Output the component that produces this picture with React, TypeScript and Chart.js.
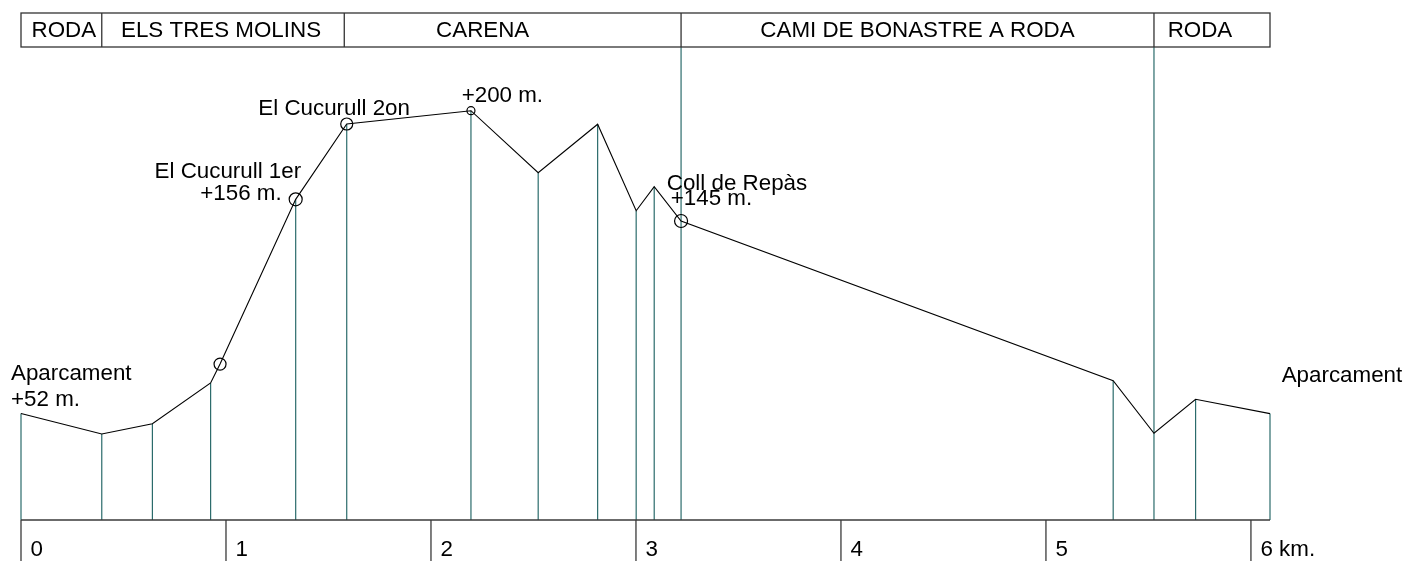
import React, { useEffect, useRef } from "react";
import { Chart, registerables } from "chart.js";

Chart.register(...registerables);

// Distance along the route (km) and elevation (m)
const distanceKm = [0, 0.394, 0.641, 0.925, 0.971, 1.34, 1.589, 2.195, 2.523, 2.813, 3.001, 3.089, 3.22, 5.328, 5.527, 5.73, 6.093];
const elevationM = [52, 42, 47, 67, 76.2, 156.7, 193.5, 200, 169.7, 193.4, 151.1, 162.9, 146.1, 68.1, 42.4, 59, 52];
// Which points have a circle marker, and which have a vertical post
const markerRadius = [0, 0, 0, 0, 6, 6.5, 6, 4, 0, 0, 0, 0, 6.5, 0, 0, 0, 0];
const hasPost = [true, true, true, true, false, true, true, true, true, true, true, true, true, true, true, true, true];
const postToHeader = [false, false, false, false, false, false, false, false, false, false, false, false, true, false, true, false, false];

// Header sections (km boundaries) and names
const sectionBounds = [0, 0.394, 1.577, 3.22, 5.527, 6.093];
const sectionNames = ["RODA", "ELS TRES MOLINS", "CARENA", "CAMI DE BONASTRE A RODA", "RODA"];

// Axis ticks
const tickValues = [0, 1, 2, 3, 4, 5, 6];
const tickLabels = ["0", "1", "2", "3", "4", "5", "6 km."];

// Point annotations
const annotationPoint = [0, 0, 5, 5, 6, 7, 12, 12, 16];
const annotationText = ["Aparcament", "+52 m.", "El Cucurull 1er", "+156 m.", "El Cucurull 2on", "+200 m.", "Coll de Repàs", "+145 m.", "Aparcament"];

const FONT = '21.5px "Liberation Sans", Arial, sans-serif';
const SX = 1.04;

// layout (pixel offsets from the anchor point) for annotations
const annLayout: { dx: number; dy: number; align: CanvasTextAlign }[] = [
  { dx: -10, dy: -34, align: "left" },
  { dx: -10, dy: -8, align: "left" },
  { dx: 5.5, dy: -21, align: "right" },
  { dx: -14, dy: 0.7, align: "right" },
  { dx: -88.4, dy: -9, align: "left" },
  { dx: -9.3, dy: -9, align: "left" },
  { dx: -14.3, dy: -31, align: "left" },
  { dx: -10.3, dy: -16, align: "left" },
  { dx: 11.7, dy: -31.6, align: "left" },
];
const headerTextShift = [2.5, -2, -30, 0, -12];

function drawText(ctx: CanvasRenderingContext2D, text: string, x: number, y: number, align: CanvasTextAlign) {
  ctx.save();
  ctx.translate(x, y);
  ctx.scale(SX, 1);
  ctx.font = FONT;
  ctx.fillStyle = "#000";
  ctx.textAlign = align;
  ctx.textBaseline = "alphabetic";
  ctx.fillText(text, 0, 0);
  ctx.restore();
}

const HEADER_TOP = 13;
const HEADER_BOTTOM = 47;

const profilePlugin = {
  id: "profileDecor",
  beforeDatasetsDraw(chart: any) {
    const ctx: CanvasRenderingContext2D = chart.ctx;
    const xs = chart.scales.x;
    const ys = chart.scales.y;
    const base = ys.getPixelForValue(0);
    ctx.save();
    ctx.strokeStyle = "#2b6b6b";
    ctx.lineWidth = 1.2;
    distanceKm.forEach((d, i) => {
      if (!hasPost[i]) return;
      const x = xs.getPixelForValue(d);
      const top = postToHeader[i] ? HEADER_BOTTOM : ys.getPixelForValue(elevationM[i]);
      ctx.beginPath();
      ctx.moveTo(x, base);
      ctx.lineTo(x, top);
      ctx.stroke();
    });
    ctx.restore();
  },
  afterDraw(chart: any) {
    const ctx: CanvasRenderingContext2D = chart.ctx;
    const xs = chart.scales.x;
    const ys = chart.scales.y;
    const base = ys.getPixelForValue(0);
    const h = chart.height;

    // axis line and ticks
    ctx.save();
    ctx.strokeStyle = "#3a3a3a";
    ctx.lineWidth = 1.3;
    ctx.beginPath();
    ctx.moveTo(xs.getPixelForValue(0), base);
    ctx.lineTo(xs.getPixelForValue(sectionBounds[sectionBounds.length - 1]), base);
    ctx.stroke();
    tickValues.forEach((v, i) => {
      const x = xs.getPixelForValue(v);
      ctx.beginPath();
      ctx.moveTo(x, base);
      ctx.lineTo(x, h);
      ctx.stroke();
      drawText(ctx, tickLabels[i], x + 9.5, 555.5, "left");
    });

    // header band
    const x0 = xs.getPixelForValue(sectionBounds[0]);
    const x1 = xs.getPixelForValue(sectionBounds[sectionBounds.length - 1]);
    ctx.strokeStyle = "#333";
    ctx.lineWidth = 1.3;
    ctx.strokeRect(x0, HEADER_TOP, x1 - x0, HEADER_BOTTOM - HEADER_TOP);
    for (let i = 1; i < sectionBounds.length - 1; i++) {
      const x = xs.getPixelForValue(sectionBounds[i]);
      ctx.beginPath();
      ctx.moveTo(x, HEADER_TOP);
      ctx.lineTo(x, HEADER_BOTTOM);
      ctx.stroke();
    }
    sectionNames.forEach((name, i) => {
      const a = xs.getPixelForValue(sectionBounds[i]);
      const b = xs.getPixelForValue(sectionBounds[i + 1]);
      drawText(ctx, name, (a + b) / 2 + headerTextShift[i], 37, "center");
    });

    // annotations
    annotationText.forEach((t, i) => {
      const p = annotationPoint[i];
      const px = xs.getPixelForValue(distanceKm[p]);
      const py = ys.getPixelForValue(elevationM[p]);
      const l = annLayout[i];
      drawText(ctx, t, px + l.dx, py + l.dy, l.align);
    });
    ctx.restore();
  },
};

export default function App() {
  const ref = useRef<HTMLCanvasElement | null>(null);
  useEffect(() => {
    if (!ref.current) return;
    const chart = new Chart(ref.current, {
      type: "line",
      data: {
        datasets: [
          {
            data: distanceKm.map((x, i) => ({ x, y: elevationM[i] })),
            borderColor: "#000",
            borderWidth: 1.1,
            tension: 0,
            pointRadius: markerRadius,
            pointHoverRadius: markerRadius,
            pointBorderColor: "#000",
            pointBackgroundColor: "rgba(0,0,0,0)",
            pointBorderWidth: 1.2,
            clip: false as any,
          },
        ],
      },
      options: {
        responsive: false,
        devicePixelRatio: 1,
        animation: false,
        events: [],
        layout: { padding: { left: 21, right: 151, top: 0, bottom: 41 } },
        scales: {
          x: { type: "linear", min: 0, max: 6.093, display: false },
          y: { type: "linear", min: 0, max: 254.1, display: false },
        },
        plugins: { legend: { display: false }, tooltip: { enabled: false } },
      },
      plugins: [profilePlugin],
    });
    return () => chart.destroy();
  }, []);
  return (
    <div style={{ position: "fixed", left: 0, top: 0, width: 1421, height: 561, background: "#fff" }}>
      <canvas ref={ref} width={1421} height={561} style={{ display: "block" }} />
    </div>
  );
}
